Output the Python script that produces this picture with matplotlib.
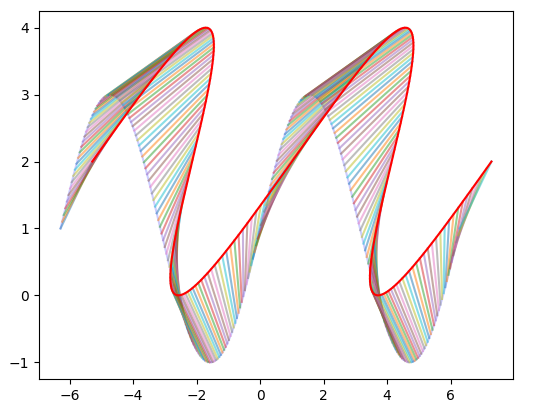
import numpy as np
import matplotlib
matplotlib.use("Agg")
import matplotlib.pyplot as plt

# curve: y = offset + amp*sin(t), t in [-2pi, 2pi]
t_range = [-2 * np.pi, 2 * np.pi]
n_seg = 250
offset = 1.0
amp = 2.0
# each point is moved by (y, 1): x' = x + y, y' = y + 1
lift = 1.0

t = np.linspace(t_range[0], t_range[1], n_seg)
y0 = offset + amp * np.sin(t)
x1 = t + y0
y1 = y0 + lift

fig = plt.figure(figsize=(5.46, 4.13), dpi=100)
ax = fig.add_axes([39 / 546, 34 / 413, 474 / 546, 368 / 413])

ax.plot(t, y0, color="blue", alpha=0.2)
ax.plot(np.vstack([t, x1]), np.vstack([y0, y1]), alpha=0.5)
ax.plot(x1, y1, color="red")

fig.savefig("out.png", dpi=100)
